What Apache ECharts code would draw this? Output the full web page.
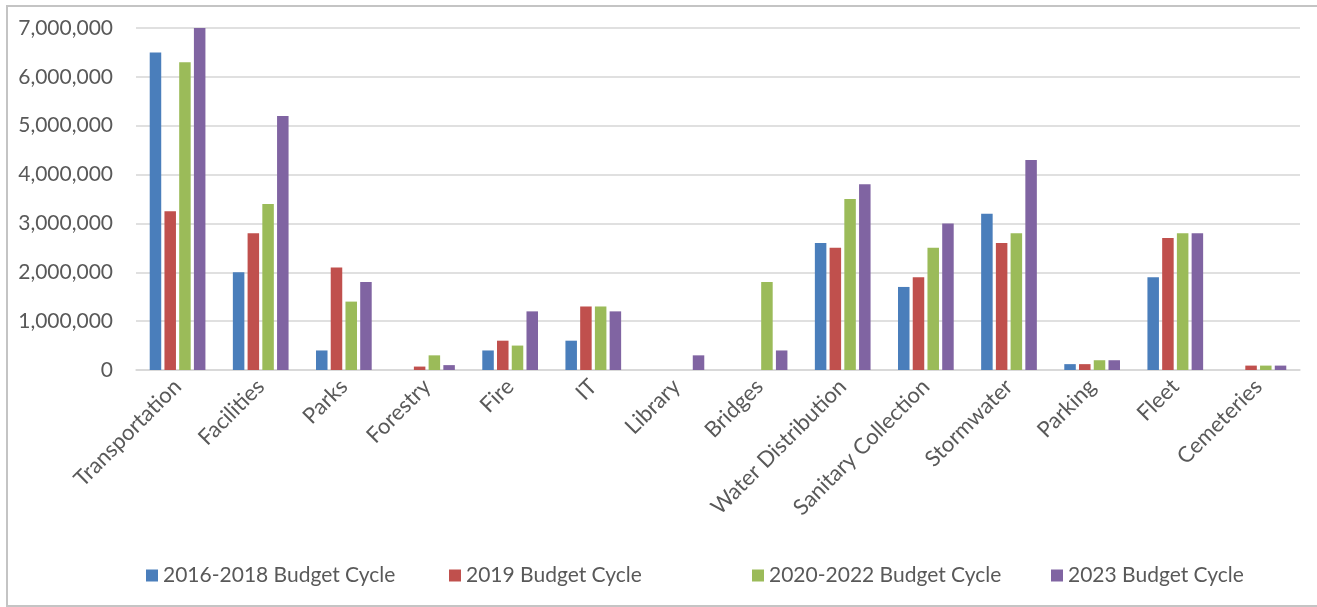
<!DOCTYPE html>
<html>
<head>
<meta charset="utf-8">
<title>Capital Budget by Service Area</title>
<script src="https://cdn.jsdelivr.net/npm/echarts@6/dist/echarts.min.js"></script>
<style>
  html, body { margin: 0; padding: 0; background: #ffffff; }
  #chart { width: 1317px; height: 607px; }
</style>
</head>
<body>
<div id="chart"></div>
<script>
// Service areas along the category axis
const categories = [
  'Transportation', 'Facilities', 'Parks', 'Forestry', 'Fire', 'IT', 'Library',
  'Bridges', 'Water Distribution', 'Sanitary Collection', 'Stormwater',
  'Parking', 'Fleet', 'Cemeteries'
];

// Budget per service area, one array per budget cycle
const cycle2016to2018 = [6500000, 2000000, 400000, 0, 400000, 600000, 0, 0, 2600000, 1700000, 3200000, 120000, 1900000, 0];
const cycle2019       = [3250000, 2800000, 2100000, 70000, 600000, 1300000, 0, 0, 2500000, 1900000, 2600000, 120000, 2700000, 90000];
const cycle2020to2022 = [6300000, 3400000, 1400000, 300000, 500000, 1300000, 0, 1800000, 3500000, 2500000, 2800000, 200000, 2800000, 90000];
const cycle2023       = [7000000, 5200000, 1800000, 100000, 1200000, 1200000, 300000, 400000, 3800000, 3000000, 4300000, 200000, 2800000, 90000];

const seriesNames = [
  '2016-2018 Budget Cycle', '2019 Budget Cycle',
  '2020-2022 Budget Cycle', '2023 Budget Cycle'
];
const seriesData = [cycle2016to2018, cycle2019, cycle2020to2022, cycle2023];
const seriesColors = ['#4A7EBB', '#C0504D', '#9BBB59', '#8064A2'];

// Value axis range
const yMin = 0;
const yMax = 7000000;
const yStep = 1000000;

const fontFamily = 'Lato, "Open Sans", sans-serif';
const textColor = '#595959';

// Legend entries sit in evenly spaced slots along the bottom
const legendSlots = [146, 449, 752, 1051];

const chart = echarts.init(document.getElementById('chart'), null, { renderer: 'canvas' });

chart.setOption({
  animation: false,
  backgroundColor: '#ffffff',
  color: seriesColors,
  graphic: [{
    type: 'rect',
    shape: { x: 7, y: 6, width: 1330, height: 600 },
    style: { fill: 'none', stroke: '#c4c4c4', lineWidth: 2 },
    silent: true,
    z: -1
  }],
  grid: { left: 136, right: 17, top: 28, bottom: 237, containLabel: false },
  legend: seriesNames.map((name, i) => ({
    left: legendSlots[i],
    top: 565,
    padding: 0,
    itemWidth: 12,
    itemHeight: 12,
    icon: 'rect',
    textStyle: { fontFamily: fontFamily, fontSize: 21, color: textColor },
    data: [name]
  })),
  xAxis: {
    type: 'category',
    data: categories,
    axisTick: { show: false },
    axisLine: { lineStyle: { color: '#d6d6d6', width: 1.5 } },
    axisLabel: {
      interval: 0,
      rotate: 45,
      margin: 13,
      fontFamily: fontFamily,
      fontSize: 22,
      color: textColor
    }
  },
  yAxis: {
    type: 'value',
    min: yMin,
    max: yMax,
    interval: yStep,
    axisLine: { show: false },
    axisTick: { show: false },
    splitLine: { lineStyle: { color: '#d6d6d6', width: 1.5 } },
    axisLabel: {
      margin: 23,
      fontFamily: fontFamily,
      fontSize: 21,
      color: textColor,
      formatter: v => v.toLocaleString('en-US')
    }
  },
  series: seriesNames.map((name, i) => ({
    name: name,
    type: 'bar',
    data: seriesData[i],
    barGap: '28%',
    barCategoryGap: '33%',
    itemStyle: { color: seriesColors[i] }
  }))
});
</script>
</body>
</html>
